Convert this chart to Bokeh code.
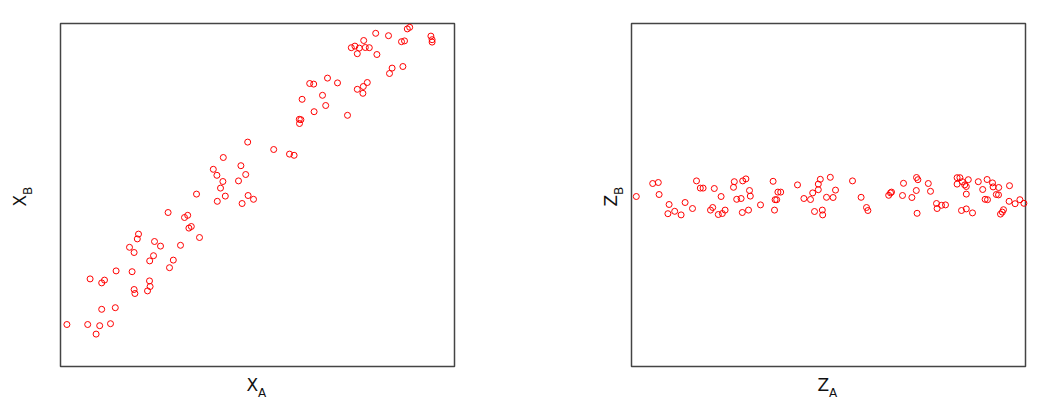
import math
from bokeh.plotting import figure
from bokeh.layouts import row
from bokeh.models import Label, Range1d, BoxAnnotation
from bokeh.embed import file_html
from bokeh.resources import INLINE

# Left panel: X_A vs X_B (strongly correlated)
xa = [1.6, 6.8, 8.9, 9.8, 12.5, 10.3, 13.7, 7.4, 10.3, 11.0, 13.9, 17.9, 18.4, 18.6, 21.75,
      22.4, 22.25, 22.3, 23.25, 17.25, 18.4, 19.2, 19.5, 23.5, 25.0, 27.25, 28.2, 30.0, 26.9,
      31.0, 31.8, 32.1, 32.7, 34.75, 34.0, 39.2, 41.2, 40.0, 40.6, 44.5, 45.4, 46.9, 48.25,
      46.8, 40.7, 38.2, 39.1, 45.1, 46.3, 53.3, 57.25, 58.4, 59.7, 60.1, 59.75, 60.4, 63.4,
      62.3, 63.3, 65.5, 66.3, 66.75, 69.25, 71.75, 74.2, 75.7, 76.7, 75.6, 72.7, 73.6, 74.7,
      74.2, 75.8, 76.2, 77.2, 78.8, 79.1, 82.0, 82.25, 82.9, 85.6, 85.25, 86.0, 86.7, 87.3,
      92.6, 92.9, 92.9]
xb = [10.5, 10.5, 8.1, 10.2, 10.7, 14.3, 14.7, 21.9, 20.9, 21.6, 23.9, 23.7, 19.25, 18.25, 18.9,
      20.0, 21.4, 26.4, 27.7, 29.8, 28.5, 31.9, 33.1, 31.25, 30.1, 24.7, 26.6, 30.3, 38.5,
      37.25, 37.8, 34.6, 35.0, 32.25, 43.1, 41.3, 42.6, 44.6, 46.25, 46.4, 40.75, 42.75, 41.8,
      56.1, 52.25, 49.3, 47.8, 50.2, 48.0, 54.25, 53.1, 52.8, 61.8, 61.7, 60.75, 66.8, 63.7,
      70.75, 70.6, 67.8, 65.25, 72.1, 70.9, 62.8, 69.3, 70.0, 71.0, 68.3, 79.7, 80.1, 79.6,
      78.2, 81.5, 79.75, 79.7, 83.3, 78.0, 82.7, 73.25, 74.6, 75.0, 81.2, 81.4, 84.4, 84.8,
      82.6, 81.7, 81.1]

# Right panel: Z_A vs Z_B (no relation)
za = [1.2, 5.3, 6.7, 6.9, 9.4, 9.1, 10.8, 12.4, 13.4, 15.25, 16.25, 17.2, 17.9, 20.7, 22.4,
      19.75, 20.3, 21.7, 22.7, 23.4, 25.7, 25.5, 27.8, 28.6, 29.5, 29.7, 26.3, 27.4, 27.7,
      29.25, 32.25, 35.4, 36.6, 37.3, 35.9, 36.3, 35.75, 41.5, 43.1, 44.75, 45.3, 46.7, 46.7,
      47.2, 45.75, 47.7, 47.8, 48.75, 49.7, 51.0, 50.4, 55.25, 57.4, 58.75, 59.1, 64.3, 64.75,
      65.0, 68.0, 67.75, 70.1, 71.25, 71.6, 71.2, 71.4, 74.2, 74.75, 76.25, 76.4, 77.5, 78.5,
      81.4, 82.1, 81.4, 82.7, 83.3, 84.2, 83.7, 83.7, 82.5, 83.7, 85.25, 86.7, 87.8, 88.9,
      90.25, 90.4, 91.8, 88.4, 89.0, 91.2, 91.75, 94.5, 94.4, 95.9, 97.1, 98.1, 93.0, 92.7,
      92.25]
zb = [42.5, 45.75, 46.0, 43.0, 40.5, 38.2, 38.8, 37.9, 41.0, 39.5, 46.4, 44.6, 44.6, 44.5, 42.5,
      39.1, 39.75, 38.0, 38.25, 39.1, 46.2, 44.8, 46.4, 46.9, 44.0, 42.6, 41.8, 42.0, 38.5,
      39.1, 40.4, 46.3, 43.6, 43.6, 41.7, 41.7, 39.1, 45.4, 42.0, 41.75, 43.4, 44.2, 45.6,
      46.8, 38.75, 39.1, 37.9, 42.3, 47.3, 44.1, 42.25, 46.4, 42.3, 39.75, 39.0, 42.8, 43.4,
      43.6, 45.8, 42.75, 42.25, 47.25, 46.7, 44.0, 38.3, 45.75, 43.8, 40.75, 39.5, 40.3, 40.4,
      47.2, 47.2, 45.6, 46.2, 45.4, 46.7, 45.0, 43.1, 39.0, 39.4, 38.4, 46.2, 44.25, 46.75,
      45.9, 44.9, 44.75, 41.8, 41.7, 43.0, 42.9, 45.2, 41.3, 40.7, 41.7, 40.8, 39.2, 38.6,
      38.1]

labels_left = ("X", "A", "X", "B")
labels_right = ("Z", "A", "Z", "B")

# data extent of the boxed area
BOX_X = (0, 98.5)
BOX_Y = (0, 85.75)

FONT = "DejaVu Sans"
MAIN = "17px"
SUB = "12px"
TXT = "#111111"


def make_panel(xs, ys, labels, width, xr, ylab_x):
    p = figure(frame_width=width, frame_height=406,
               min_border=0,
               x_range=Range1d(*xr), y_range=Range1d(-10, 91.5),
               output_backend="svg", toolbar_location=None)
    p.axis.visible = False
    p.grid.visible = False
    p.outline_line_color = None
    p.background_fill_color = "white"
    p.border_fill_color = "white"
    p.add_layout(BoxAnnotation(left=BOX_X[0], right=BOX_X[1], bottom=BOX_Y[0], top=BOX_Y[1],
                               fill_color=None, fill_alpha=0, line_color="#444444",
                               line_alpha=1.0, line_width=1.5, level="underlay"))
    p.scatter(xs, ys, marker="circle", size=6, fill_color=None,
              line_color="red", line_width=1)
    xm, xs_, ym, ys_ = labels
    xc = 49.4
    # x-axis label with subscript
    p.add_layout(Label(x=xc, y=-4.5, text=xm,
                       text_align="right", text_baseline="alphabetic",
                       text_font=FONT, text_font_size=MAIN, text_color=TXT))
    p.add_layout(Label(x=xc, y=-6.5, text=xs_,
                       text_align="left", text_baseline="alphabetic",
                       text_font=FONT, text_font_size=SUB, text_color=TXT))
    # y-axis label with subscript (rotated)
    yc = 42.9
    p.add_layout(Label(x=ylab_x, y=yc, text=ym,
                       angle=math.pi / 2, text_align="right", text_baseline="alphabetic",
                       text_font=FONT, text_font_size=MAIN, text_color=TXT))
    p.add_layout(Label(x=ylab_x + 2.0, y=yc, text=ys_,
                       angle=math.pi / 2, text_align="left", text_baseline="alphabetic",
                       text_font=FONT, text_font_size=SUB, text_color=TXT))
    return p


p1 = make_panel(xa, xb, labels_left, 544, (-15, 121), -10.2)
p2 = make_panel(za, zb, labels_right, 486, (-21.75, 99.75), -5.2)

layout = row(p1, p2)
open("out.html", "w").write(file_html(layout, INLINE))
